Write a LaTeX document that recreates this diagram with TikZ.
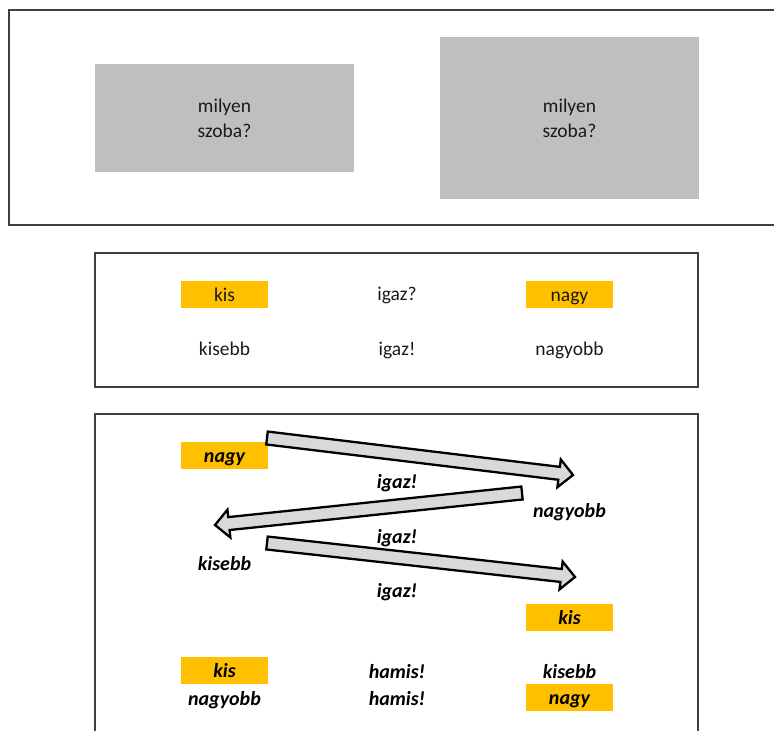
\documentclass[tikz,border=0pt]{standalone}
\usepackage{fontspec}
\setmainfont{Carlito}
\usetikzlibrary{calc}
\definecolor{frame}{HTML}{404040}
\definecolor{roomgray}{HTML}{BFBFBF}
\definecolor{gold}{HTML}{FFC000}
\definecolor{shaft}{HTML}{D9D9D9}
\definecolor{ink}{HTML}{1A1A1A}

% block arrow from #1 to #2: shaft half width, head half width, head length
\newcommand\blockarr[2]{%
  \path ($(#2)!14pt!(#1)$) coordinate (hb);
  \draw[blockarrow]
    ($(#1)!6.5pt!90:(#2)$) -- ($(hb)!6.5pt!90:(#2)$) -- ($(hb)!14pt!90:(#2)$)
    -- (#2)
    -- ($(hb)!14pt!-90:(#2)$) -- ($(hb)!6.5pt!-90:(#2)$) -- ($(#1)!6.5pt!-90:(#2)$)
    -- cycle;}

\begin{document}
\begin{tikzpicture}[x=1pt,y=-1pt,
  panel/.style={draw=frame,line width=1.4pt},
  room/.style={fill=roomgray,minimum width=259pt,inner sep=0pt,align=center,
    text=ink,font=\fontsize{19.5}{25}\selectfont},
  word/.style={font=\fontsize{19.5}{23}\selectfont,inner sep=0pt,
    text height=14pt,text depth=4pt,text=ink},
  strong/.style={word,font=\fontsize{20}{23}\selectfont\bfseries\itshape,text=black},
  tag/.style={fill=gold,minimum width=87pt,minimum height=27pt,
    text height=16pt,text depth=2pt},
  blockarrow/.style={draw=black,fill=shaft,line width=2.3pt,line join=miter}
]
\useasboundingbox (0,0) rectangle (774,731);
\clip (0,0) rectangle (774,731);

% panels
\draw[panel] (9,10) rectangle (790,225);
\draw[panel] (95,253) rectangle (698,387);
\draw[panel] (95,414) rectangle (698,760);

% top panel: two rooms
\node[room,minimum height=108pt] (roomA) at (224.5,118) {milyen\\szoba?};
\node[room,minimum height=162pt] (roomB) at (569.5,118) {milyen\\szoba?};

% middle panel
\node[word,tag] (kis1) at (224.5,294) {kis};
\node[word] (q1) at (397,295.5) {igaz?};
\node[word,tag] (nagy1) at (569.5,294) {nagy};
\node[word] (kisebb1) at (224.5,350.5) {kisebb};
\node[word] (ok1) at (397,350.5) {igaz!};
\node[word] (nagyobb1) at (569.5,350.5) {nagyobb};

% bottom panel
\node[strong,tag] (nagy2) at (224.5,455) {nagy};
\node[strong] (ok2) at (397,483.5) {igaz!};
\node[strong] (nagyobb2) at (569.5,512.5) {nagyobb};
\node[strong] (ok3) at (397,538.5) {igaz!};
\node[strong] (kisebb2) at (224.5,565.5) {kisebb};
\node[strong] (ok4) at (397,592.5) {igaz!};
\node[strong,tag] (kis2) at (569.5,617) {kis};
\node[strong,tag] (kis3) at (224.5,670.5) {kis};
\node[strong] (no1) at (397,673.5) {hamis!};
\node[strong] (kisebb3) at (569.5,673.5) {kisebb};
\node[strong] (nagyobb3) at (224.5,700.5) {nagyobb};
\node[strong] (no2) at (397,700.5) {hamis!};
\node[strong,tag] (nagy3) at (569.5,697.5) {nagy};

% arrow end points
\coordinate (p1) at (267,438);
\coordinate (p2) at (573,475);
\coordinate (p3) at (522,493);
\coordinate (p4) at (215,525);
\coordinate (p5) at (267,543);
\coordinate (p6) at (575,577);

\blockarr{p1}{p2}
\blockarr{p3}{p4}
\blockarr{p5}{p6}
\end{tikzpicture}
\end{document}
